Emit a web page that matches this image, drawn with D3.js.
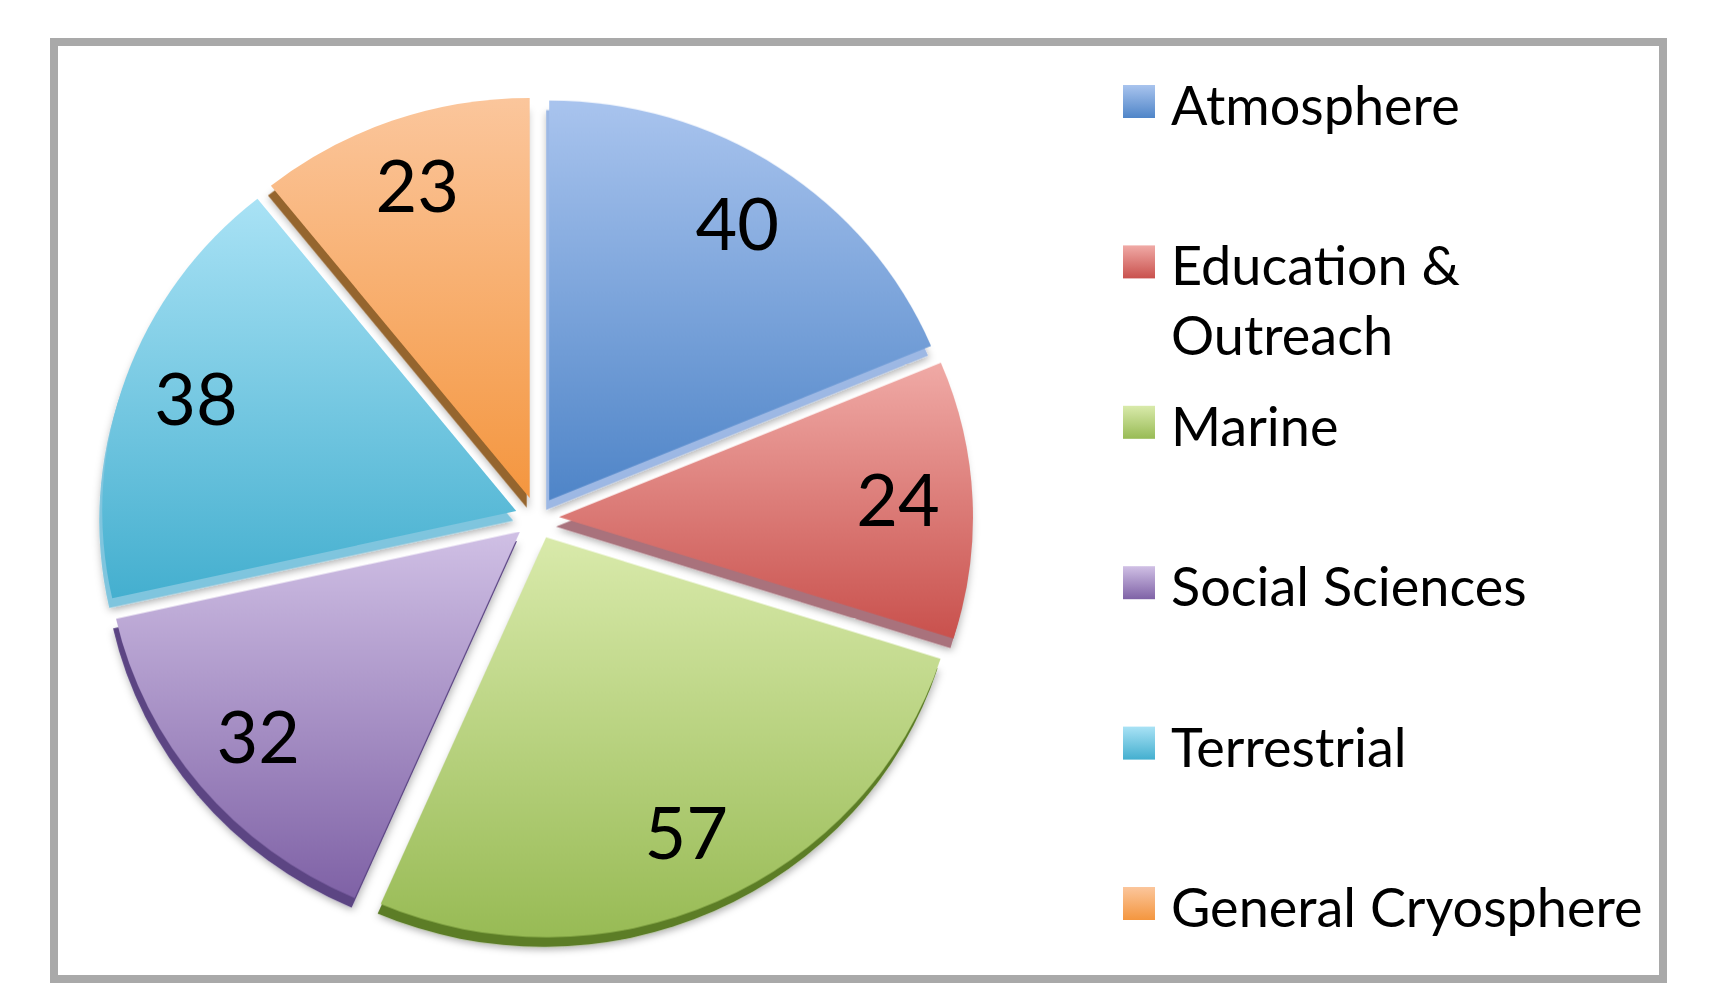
<!DOCTYPE html>
<html>
<head>
<meta charset="utf-8">
<script src="https://d3js.org/d3.v7.min.js"></script>
<style>
    body { margin: 0; background: #ffffff; }
    .text { font-family: Lato, 'Open Sans', sans-serif; fill: #000000; }
</style>
</head>
<body>
<div id="pieDiv"></div>
<script>
// chart values
const categories = ['Atmosphere', 'Education & Outreach', 'Marine', 'Social Sciences', 'Terrestrial', 'General Cryosphere'];
const legendLines = [['Atmosphere'], ['Education &', 'Outreach'], ['Marine'], ['Social Sciences'], ['Terrestrial'], ['General Cryosphere']];
const counts = [40, 24, 57, 32, 38, 23];

// top / bottom of each slice gradient, plus the colour of its 3d side
const topColors = ['#a9c4ee', '#f0aaa6', '#d9eaab', '#d0c0e5', '#a9e2f5', '#fbc69c'];
const baseColors = ['#4f85c8', '#c9514d', '#98bb55', '#7f62a6', '#44afcf', '#f4963f'];
const sideColors = ['#9db8e4', '#a9727c', '#5c7d27', '#5b4583', '#7fc5de', '#95652f'];

class ExplodedPie {
    constructor() {
        this.width = 1709;
        this.height = 988;
        this.cx = 537;
        this.cy = 518;
        this.radius = 414;
        this.squash = 0.966;
        this.explode = 22;
        this.depth = { x: -3, y: 10 };
        this.labelLift = -5;

        this.drawPlot();
    }

    drawPlot() {
        let that = this;
        this.svg = d3.select('#pieDiv')
            .append('svg')
            .attr('width', this.width)
            .attr('height', this.height);

        let defs = this.svg.append('defs');
        categories.forEach((c, i) => {
            let grad = defs.append('linearGradient')
                .attr('id', 'grad-' + i)
                .attr('x1', 0).attr('y1', 0).attr('x2', 0).attr('y2', 1);
            grad.append('stop').attr('offset', '0%').attr('stop-color', topColors[i]);
            grad.append('stop').attr('offset', '100%').attr('stop-color', baseColors[i]);
        });
        let shadow = defs.append('filter').attr('id', 'soft-shadow')
            .attr('x', '-20%').attr('y', '-20%').attr('width', '140%').attr('height', '140%');
        shadow.append('feDropShadow')
            .attr('dx', 1).attr('dy', 3)
            .attr('stdDeviation', 4)
            .attr('flood-color', '#000000')
            .attr('flood-opacity', 0.3);

        // chart frame
        this.svg.append('rect')
            .attr('x', 54).attr('y', 42)
            .attr('width', 1609).attr('height', 937)
            .attr('fill', 'none')
            .attr('stroke', '#a9a9a9')
            .attr('stroke-width', 8);

        let pie = d3.pie().sort(null).value(d => d);
        let arcs = pie(counts);
        let arcFn = d3.arc().innerRadius(0).outerRadius(this.radius);
        let labelArc = d3.arc().innerRadius(this.radius * 0.82).outerRadius(this.radius * 0.82);

        let offset = (d) => {
            let mid = (d.startAngle + d.endAngle) / 2;
            return [Math.sin(mid) * that.explode, -Math.cos(mid) * that.explode];
        };

        let pieGroup = this.svg.append('g')
            .attr('transform', `translate(${this.cx}, ${this.cy}) scale(1, ${this.squash})`);

        // 3d sides first, then the top faces over them
        let sideGroup = pieGroup.append('g').attr('filter', 'url(#soft-shadow)');
        sideGroup.selectAll('path')
            .data(arcs)
            .enter().append('path')
            .attr('transform', d => {
                let o = offset(d);
                return `translate(${o[0] + that.depth.x}, ${o[1] + that.depth.y})`;
            })
            .attr('d', arcFn)
            .attr('fill', (d, i) => sideColors[i]);

        pieGroup.append('g').selectAll('path')
            .data(arcs)
            .enter().append('path')
            .attr('transform', d => `translate(${offset(d)[0]}, ${offset(d)[1]})`)
            .attr('d', arcFn)
            .attr('fill', (d, i) => `url(#grad-${i})`);

        // data labels
        this.svg.append('g').selectAll('text')
            .data(arcs)
            .enter().append('text')
            .classed('text', true)
            .attr('x', d => that.cx + labelArc.centroid(d)[0] + offset(d)[0])
            .attr('y', d => that.cy + (labelArc.centroid(d)[1] + offset(d)[1]) * that.squash + that.labelLift)
            .attr('text-anchor', 'middle')
            .attr('dominant-baseline', 'central')
            .attr('font-size', 72)
            .text(d => d.data);

        // legend
        let legendGroup = this.svg.append('g')
            .attr('transform', 'translate(1123, 125)');
        let rows = legendGroup.selectAll('g')
            .data(categories)
            .enter().append('g')
            .attr('transform', (d, i) => `translate(0, ${i * 160.4})`);
        rows.append('rect')
            .attr('x', 0).attr('y', -40)
            .attr('width', 32).attr('height', 33)
            .attr('fill', (d, i) => `url(#grad-${i})`);
        rows.append('text')
            .classed('text', true)
            .attr('font-size', 54)
            .attr('transform', 'translate(48, 0)')
            .selectAll('tspan')
            .data((d, i) => legendLines[i])
            .enter().append('tspan')
            .attr('x', 0)
            .attr('dy', (d, j) => j === 0 ? 0 : 70)
            .text(d => d);
    }
}

new ExplodedPie();
</script>
</body>
</html>
